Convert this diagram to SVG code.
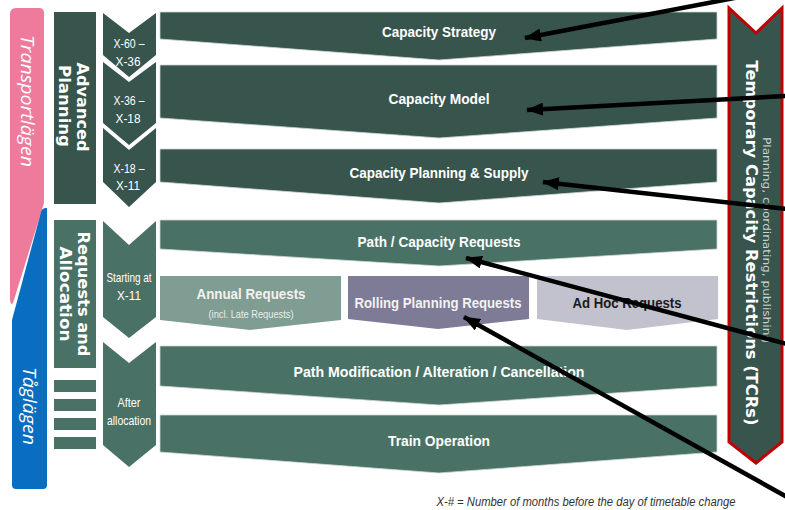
<svg xmlns="http://www.w3.org/2000/svg" width="785" height="510" viewBox="0 0 785 510">
  <style>
    .dark { fill: #37544d; }
    .mid { fill: #4a7166; }
    .bar { stroke: #cdd6d3; stroke-width: 0.8; }
    .lbl { font-family: "Liberation Sans", Arial, sans-serif; font-weight: bold; fill: #ffffff; text-anchor: middle; }
    .chev { font-family: "Liberation Sans", Arial, sans-serif; font-size: 13px; fill: #ffffff; text-anchor: middle; }
    .vbox { font-family: "DejaVu Sans", Verdana, sans-serif; font-weight: bold; font-size: 15px; fill: #ffffff; text-anchor: middle; }
    .side { font-family: "Open Sans", "Liberation Sans", sans-serif; font-style: italic; font-size: 19px; fill: #ffffff; text-anchor: middle; }
    .conn { stroke: #000000; stroke-width: 4.5; fill: none; marker-end: url(#head); }
  </style>
  <defs>
    <marker id="head" markerUnits="userSpaceOnUse" markerWidth="17" markerHeight="13" refX="16" refY="6.5" orient="auto">
      <path d="M0,0 L17,6.5 L0,13 Z" fill="#000000"/>
    </marker>
  </defs>

  <rect width="785" height="510" fill="#ffffff"/>

  <!-- phase bands on the far left -->
  <g id="band-transportlagen">
    <path d="M10,14 Q10,8 16,8 L39,8 Q44,8 44,13 L44,203 L13,303 Q11,306 10,300 Z" fill="#ee7b9b"/>
    <text class="side" transform="translate(27,101) rotate(90)" y="6.5" textLength="132" lengthAdjust="spacingAndGlyphs">Transportlägen</text>
  </g>
  <g id="band-taglagen">
    <path d="M41,212 Q42,208 46,208 L47,208 L47,485 Q47,489 43,489 L16,489 Q12,489 12,485 L12,320 Z" fill="#0a6ec0"/>
    <text class="side" transform="translate(29,406) rotate(90)" y="6.5" textLength="78" lengthAdjust="spacingAndGlyphs">Tåglägen</text>
  </g>

  <!-- stage boxes -->
  <g id="stage-advanced-planning">
    <rect x="54" y="12" width="42" height="192" class="dark"/>
    <text class="vbox" transform="translate(82,107) rotate(90)" y="5" textLength="89" lengthAdjust="spacingAndGlyphs">Advanced</text>
    <text class="vbox" transform="translate(64,106) rotate(90)" y="5" textLength="82" lengthAdjust="spacingAndGlyphs">Planning</text>
  </g>
  <g id="stage-requests-allocation">
    <rect x="54" y="220" width="42" height="148" class="mid"/>
    <text class="vbox" transform="translate(83,294) rotate(90)" y="5" textLength="125" lengthAdjust="spacingAndGlyphs">Requests and</text>
    <text class="vbox" transform="translate(65,294) rotate(90)" y="5" textLength="95" lengthAdjust="spacingAndGlyphs">Allocation</text>
  </g>
  <g id="stage-steps">
    <rect x="54" y="380" width="42" height="12" class="mid"/>
    <rect x="54" y="399" width="42" height="12" class="mid"/>
    <rect x="54" y="418" width="42" height="12" class="mid"/>
    <rect x="54" y="437" width="42" height="12" class="mid"/>
  </g>

  <!-- time chevrons -->
  <g id="time-x60-x36">
    <polygon points="103,13 129,33 156,13 156,55 129,77 103,55" class="dark"/>
    <text class="chev" x="129" y="48" textLength="31" lengthAdjust="spacingAndGlyphs">X-60 –</text>
    <text class="chev" x="128" y="66" textLength="25" lengthAdjust="spacingAndGlyphs">X-36</text>
  </g>
  <g id="time-x36-x18">
    <polygon points="103,62 129,82 156,62 156,123 129,145 103,123" class="dark"/>
    <text class="chev" x="129" y="105" textLength="31" lengthAdjust="spacingAndGlyphs">X-36 –</text>
    <text class="chev" x="128" y="123" textLength="25" lengthAdjust="spacingAndGlyphs">X-18</text>
  </g>
  <g id="time-x18-x11">
    <polygon points="103,128 129,150 156,128 156,182 129,207 103,182" class="dark"/>
    <text class="chev" x="129" y="173" textLength="31" lengthAdjust="spacingAndGlyphs">X-18 –</text>
    <text class="chev" x="128" y="190" textLength="24" lengthAdjust="spacingAndGlyphs">X-11</text>
  </g>
  <g id="time-starting-x11">
    <polygon points="103,221 129,245 156,221 156,317 129,338 103,317" class="mid"/>
    <text class="chev" x="129" y="282" textLength="45" lengthAdjust="spacingAndGlyphs">Starting at</text>
    <text class="chev" x="129" y="300" textLength="24" lengthAdjust="spacingAndGlyphs">X-11</text>
  </g>
  <g id="time-after-allocation">
    <polygon points="103,342 129,363 156,342 156,445 129,467 103,445" class="mid"/>
    <text class="chev" x="129" y="407" textLength="23" lengthAdjust="spacingAndGlyphs">After</text>
    <text class="chev" x="129" y="425" textLength="44" lengthAdjust="spacingAndGlyphs">allocation</text>
  </g>

  <!-- process bars -->
  <g id="capacity-strategy">
    <polygon points="160,12 717,12 717,39 439,60 160,39" class="dark bar"/>
    <text class="lbl" x="439" y="37" font-size="15.5" textLength="114" lengthAdjust="spacingAndGlyphs">Capacity Strategy</text>
  </g>
  <g id="capacity-model">
    <polygon points="160,65 717,65 717,118 439,138 160,118" class="dark bar"/>
    <text class="lbl" x="439" y="104" font-size="15.5" textLength="101" lengthAdjust="spacingAndGlyphs">Capacity Model</text>
  </g>
  <g id="capacity-planning-supply">
    <polygon points="160,149 717,149 717,182 439,203 160,182" class="dark bar"/>
    <text class="lbl" x="439" y="178" font-size="15.5" textLength="179" lengthAdjust="spacingAndGlyphs">Capacity Planning &amp; Supply</text>
  </g>
  <g id="path-capacity-requests">
    <polygon points="160,220 717,220 717,249 439,266 160,249" class="mid bar"/>
    <text class="lbl" x="439" y="247" font-size="15.5" textLength="163" lengthAdjust="spacingAndGlyphs">Path / Capacity Requests</text>
  </g>
  <g id="annual-requests">
    <polygon points="160,276 341,276 341,320 250,330 160,320" fill="#7f9d93"/>
    <text class="lbl" x="251" y="299" font-size="15.5" style="fill:#f2f2f2" textLength="109" lengthAdjust="spacingAndGlyphs">Annual Requests</text>
    <text x="251" y="318" font-family="Liberation Sans, Arial, sans-serif" font-size="10" fill="#e8eeec" text-anchor="middle" textLength="85" lengthAdjust="spacingAndGlyphs">(incl. Late Requests)</text>
  </g>
  <g id="rolling-planning-requests">
    <polygon points="348,276 529,276 529,319 438,329 348,319" fill="#7d7b96"/>
    <text class="lbl" x="438" y="308" font-size="15.5" style="fill:#f2f2f2" textLength="167" lengthAdjust="spacingAndGlyphs">Rolling Planning Requests</text>
  </g>
  <g id="ad-hoc-requests">
    <polygon points="537,276 718,276 718,319 627,330 537,319" fill="#c2c2ce"/>
    <text class="lbl" x="627" y="308" font-size="15.5" style="fill:#1a1a1a" textLength="109" lengthAdjust="spacingAndGlyphs">Ad Hoc Requests</text>
  </g>
  <g id="path-modification">
    <polygon points="160,346 717,346 717,386 439,405 160,386" class="mid bar"/>
    <text class="lbl" x="439" y="377" font-size="15.5" textLength="291" lengthAdjust="spacingAndGlyphs">Path Modification / Alteration / Cancellation</text>
  </g>
  <g id="train-operation">
    <polygon points="160,415 717,415 717,452 439,473 160,452" class="mid bar"/>
    <text class="lbl" x="439" y="446" font-size="15.5" textLength="102" lengthAdjust="spacingAndGlyphs">Train Operation</text>
  </g>

  <!-- TCR band on the right -->
  <g id="tcr-band">
    <polygon points="729,8 756,33 782,8 782,442 756,463 729,442" fill="#37544d" stroke="#c00000" stroke-width="3"/>
    <text transform="translate(767,240) rotate(90)" y="4" font-family="DejaVu Sans, Verdana, sans-serif" font-size="11" fill="#c9d2cf" text-anchor="middle" textLength="206" lengthAdjust="spacingAndGlyphs">Planning, coordinating, publishing</text>
    <text class="vbox" transform="translate(751,243) rotate(90)" y="5.5" font-size="16" textLength="365" lengthAdjust="spacingAndGlyphs">Temporary Capacity Restrictions (TCRs)</text>
  </g>

  <!-- footnote -->
  <text x="586" y="506" font-family="Liberation Sans, Arial, sans-serif" font-style="italic" font-size="12.5" fill="#333333" text-anchor="middle" textLength="299" lengthAdjust="spacingAndGlyphs">X-# = Number of months before the day of timetable change</text>

  <!-- callout connectors -->
  <g id="connectors">
    <line class="conn" x1="792" y1="-13" x2="525" y2="38"/>
    <line class="conn" x1="787" y1="96" x2="527" y2="110"/>
    <line class="conn" x1="787" y1="209" x2="543" y2="182"/>
    <line class="conn" x1="787" y1="344" x2="466" y2="258"/>
    <line class="conn" x1="787" y1="497" x2="464" y2="317"/>
  </g>
</svg>
